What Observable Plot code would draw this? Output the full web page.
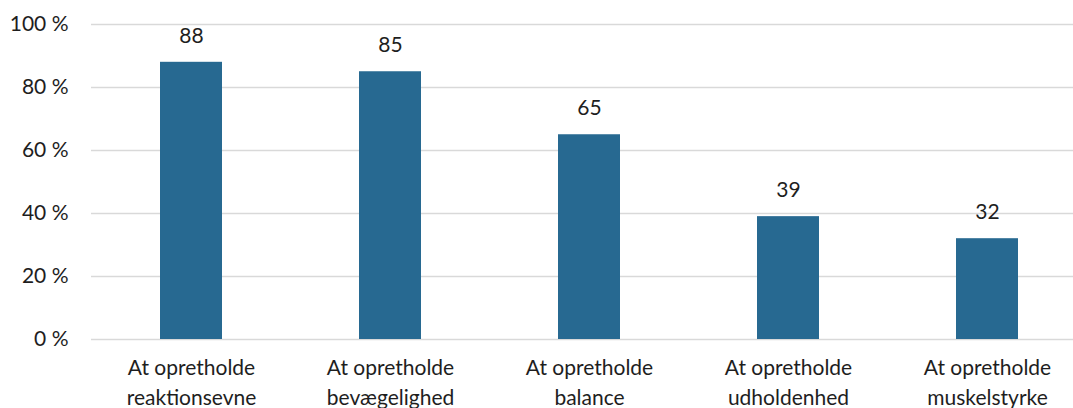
<!DOCTYPE html>
<html><head><meta charset="utf-8">
<script src="https://cdn.jsdelivr.net/npm/d3@7"></script>
<script src="https://cdn.jsdelivr.net/npm/@observablehq/plot@0.6"></script>
<style>
html,body{margin:0;padding:0;background:#fff;overflow:hidden;}
svg{display:block;}
</style>
</head><body>
<div id="chart"></div>
<script>
const categories = [
  "At opretholde\nreaktionsevne",
  "At opretholde\nbevægelighed",
  "At opretholde\nbalance",
  "At opretholde\nudholdenhed",
  "At opretholde\nmuskelstyrke"
];
const values = [88, 85, 65, 39, 32];
const yTicks = [0, 20, 40, 60, 80, 100];

const data = categories.map((c, i) => ({cat: c, val: values[i]}));
const font = "Lato, 'Open Sans', sans-serif";

const chart = Plot.plot({
  width: 1073,
  height: 408,
  marginTop: 24,
  marginBottom: 69,
  marginLeft: 91,
  marginRight: 0,
  style: {fontFamily: font, fontSize: "21px", color: "#1e1e1e", background: "#fff"},
  x: {domain: categories, range: [91.5, 1086.5], paddingInner: 0.69, paddingOuter: 0.345, label: null},
  y: {domain: [0, 100], label: null},
  marks: [
    Plot.ruleY(yTicks, {stroke: "#d9d9d9", strokeWidth: 1.5}),
    Plot.barY(data, {x: "cat", y: "val", fill: "#276991"}),
    Plot.text(data, {x: "cat", y: "val", text: d => String(d.val), dy: -26, fontSize: 21, fill: "#1e1e1e"}),
    Plot.axisY({ticks: yTicks, tickSize: 0, tickPadding: 23, tickFormat: d => d + " %", fontSize: 21, fill: "#1e1e1e"}),
    Plot.axisX({tickSize: 0, tickPadding: 14, lineHeight: 1.43, fontSize: 21, fill: "#1e1e1e"})
  ]
});
document.getElementById("chart").appendChild(chart);
</script>
</body></html>
